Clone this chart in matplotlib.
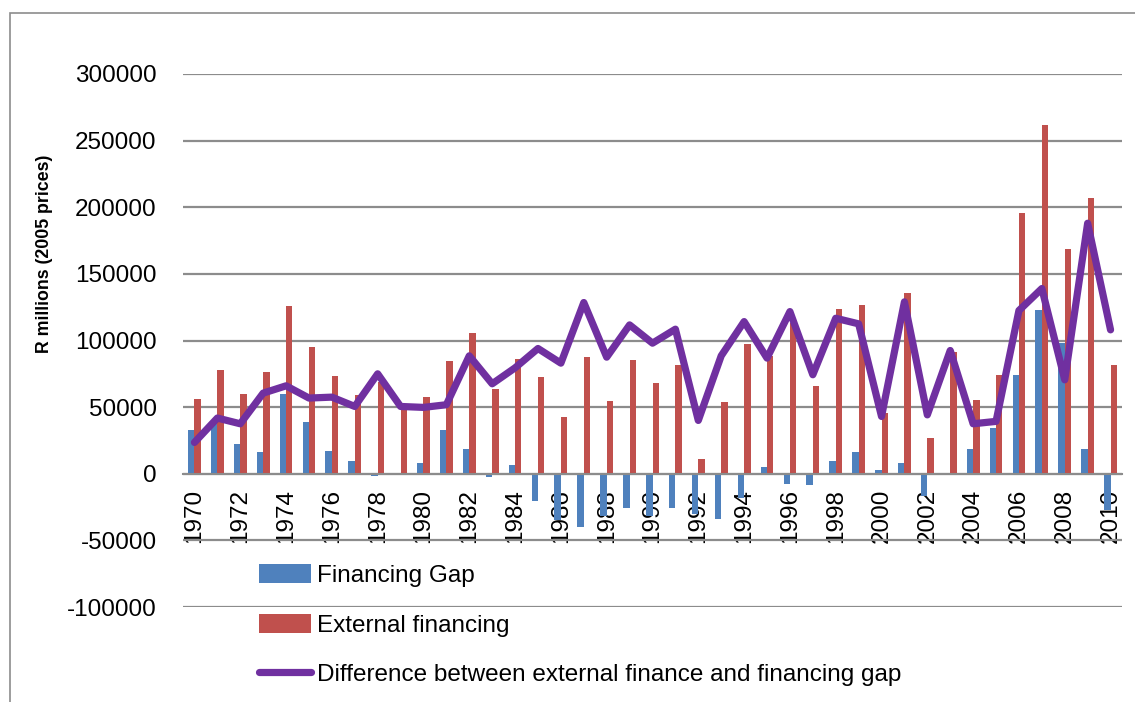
# Financing gap vs external financing, 1970-2010

import matplotlib.pyplot as plt
import numpy as np
from matplotlib.patches import Rectangle

years = list(range(1970, 2011))

financing_gap = [
    33000, 38000, 22500, 16000, 59800, 39000, 17300, 9800, -1500, 0,
    8000, 33000, 18500, -2800, 6800, -20500, -35000, -40300, -32000, -26000,
    -32000, -26000, -30000, -33700, -18000, 5000, -7500, -8800, 9500, 16200,
    2500, 8200, -17000, 0, 18700, 34700, 74200, 123000, 98000, 18700,
    -27000,
]
external_financing = [
    56000, 78000, 59800, 76000, 126000, 95000, 73500, 59300, 69000, 49000,
    57500, 84500, 106000, 63500, 86000, 72500, 42500, 87500, 54500, 85000,
    68000, 81800, 11000, 53800, 97300, 88000, 113000, 66000, 124000, 127000,
    45500, 136000, 26700, 91700, 55500, 74200, 196000, 261800, 169000, 206800,
    81500,
]
difference = [
    23500, 41800, 37500, 60500, 66000, 56800, 57500, 50500, 75000, 50500,
    49800, 51800, 88500, 67500, 79500, 94000, 83000, 128500, 87500, 111700,
    98000, 108500, 40000, 88500, 114200, 86800, 121700, 74300, 116700, 112500,
    43000, 129000, 44200, 92500, 37500, 39300, 122500, 139000, 70500, 188000,
    108000,
]

W, H = 1135, 702
fig = plt.figure(figsize=(W / 100, H / 100), dpi=100)
ax = fig.add_axes([183 / W, 1 - 607 / H, (1122 - 183) / W, (607 - 74) / H])

x = np.arange(len(years))
bw = 0.28
grid_c = "#8c8c8c"
font = "Liberation Sans"

# spine position first, it resets the tick settings
for s in ["top", "right", "left"]:
    ax.spines[s].set_visible(False)
ax.spines["bottom"].set_position(("data", 0))
ax.spines["bottom"].set_color(grid_c)
ax.spines["bottom"].set_linewidth(1.5)

b1 = ax.bar(x - bw / 2, financing_gap, width=bw, color="#4F81BD", label="Financing Gap", zorder=2)
b2 = ax.bar(x + bw / 2, external_financing, width=bw, color="#C0504D", label="External financing", zorder=2)
l1, = ax.plot(x, difference, color="#7030A0", linewidth=5.2, solid_joinstyle="round",
              solid_capstyle="round",
              label="Difference between external finance and financing gap", zorder=3)

ax.set_xlim(-0.5, len(years) - 0.5)
ax.set_ylim(-100000, 300000)
ax.set_yticks(np.arange(-100000, 300001, 50000))
ax.set_yticklabels([str(v) for v in range(-100000, 300001, 50000)],
                   fontsize=17.5, family=font)
ax.yaxis.grid(True, color=grid_c, linewidth=1.6)
ax.set_axisbelow(True)

ax.set_xticks(x[::2])
ax.set_xticklabels([str(y) for y in years[::2]], rotation=90, fontsize=17.5,
                   family=font, va="top")
ax.tick_params(axis="both", length=0)
ax.tick_params(axis="y", pad=19)
ax.tick_params(axis="x", pad=11)

fig.text(45 / W, 1 - 254 / H, "R millions (2005 prices)", rotation=90,
         ha="center", va="center", fontsize=12.8, fontweight="bold", family=font)

leg = ax.legend([b1, b2, l1], [b1.get_label(), b2.get_label(), l1.get_label()],
                loc="upper left", bbox_to_anchor=(259 / W, 1 - 564 / H),
                bbox_transform=fig.transFigure, frameon=False,
                prop={"family": font, "size": 17.5},
                handlelength=2.14, handleheight=0.82, handletextpad=0.25,
                labelspacing=1.1, borderpad=0, borderaxespad=0)

# outer chart frame (only top and left edges visible)
fig.add_artist(Rectangle((10 / W, -0.1), 1.2, 1.1 - 13 / H, transform=fig.transFigure,
                         fill=False, edgecolor=grid_c, linewidth=1.2))

fig.savefig("out.png", dpi=100)
